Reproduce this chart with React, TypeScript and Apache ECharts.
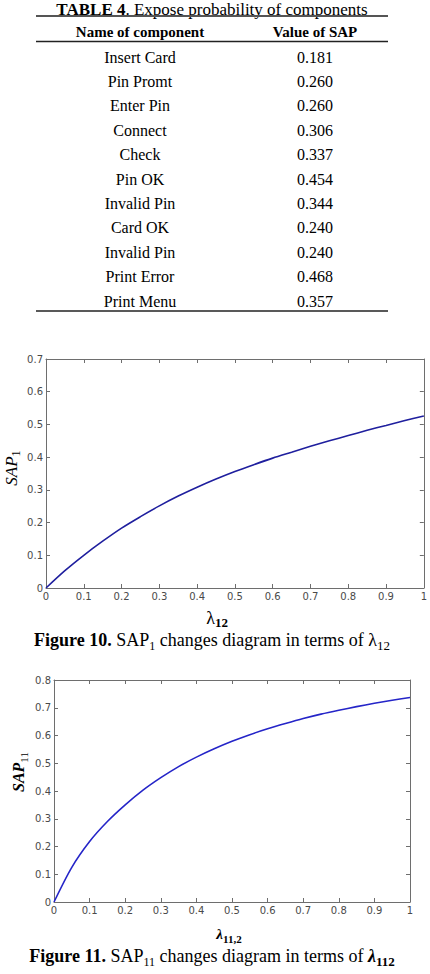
import React, { useEffect, useRef } from "react";
import * as echarts from "echarts";

// ---- Table data ----
const tableTitleBold = "TABLE 4";
const tableTitleRest = ". Expose probability of components";
const tableHeaders = ["Name of component", "Value of SAP"];
const componentNames = [
  "Insert Card", "Pin Promt", "Enter Pin", "Connect", "Check", "Pin OK",
  "Invalid Pin", "Card OK", "Invalid Pin", "Print Error", "Print Menu",
];
const sapValues = ["0.181", "0.260", "0.260", "0.306", "0.337", "0.454", "0.344", "0.240", "0.240", "0.468", "0.357"];

// ---- Figure data ----
const lambdaValues = [0, 0.05, 0.1, 0.15, 0.2, 0.25, 0.3, 0.35, 0.4, 0.45, 0.5, 0.55, 0.6, 0.65, 0.7, 0.75, 0.8, 0.85, 0.9, 0.95, 1.0];
const sap1Values = [0, 0.053, 0.1, 0.143, 0.183, 0.218, 0.251, 0.281, 0.308, 0.333, 0.356, 0.377, 0.397, 0.415, 0.433, 0.45, 0.466, 0.482, 0.497, 0.512, 0.526];
const sap11Values = [0, 0.125, 0.218, 0.29, 0.35, 0.403, 0.448, 0.488, 0.522, 0.552, 0.579, 0.603, 0.624, 0.643, 0.661, 0.677, 0.691, 0.704, 0.716, 0.727, 0.737];
const fig1YMax = 0.7;
const fig2YMax = 0.8;

const SERIF = "'Liberation Serif', 'Times New Roman', serif";
const SANS = "'DejaVu Sans', sans-serif";

export default function App() {
  const ref = useRef<HTMLDivElement>(null);
  useEffect(() => {
    if (!ref.current) return;
    const chart = echarts.init(ref.current, undefined, { renderer: "svg" });

    const axisColor = "#6e6e6e";
    const labelStyle = { color: "#4a4a4a", fontFamily: SANS, fontSize: 10 };

    const mkX = (gridIndex: number, pos: "bottom" | "top") => ({
      type: "value",
      gridIndex,
      position: pos,
      min: 0,
      max: 1,
      interval: 0.1,
      axisLine: { show: true, onZero: false, lineStyle: { color: axisColor, width: 1 } },
      axisTick: { show: true, inside: true, length: 4, lineStyle: { color: axisColor } },
      axisLabel: pos === "bottom" ? { show: true, margin: 3, ...labelStyle } : { show: false },
      splitLine: { show: false },
    });
    const mkY = (gridIndex: number, pos: "left" | "right", max: number) => ({
      type: "value",
      gridIndex,
      position: pos,
      min: 0,
      max,
      interval: 0.1,
      axisLine: { show: true, onZero: false, lineStyle: { color: axisColor, width: 1 } },
      axisTick: { show: true, inside: true, length: 4, lineStyle: { color: axisColor } },
      axisLabel: pos === "left" ? { show: true, margin: 3, ...labelStyle } : { show: false },
      splitLine: { show: false },
    });

    const graphic: any[] = [];
    // table title
    graphic.push({
      type: "text",
      x: 212,
      y: 9.5,
      style: {
        text: `{b|${tableTitleBold}}{r|${tableTitleRest}}`,
        align: "center",
        verticalAlign: "middle",
        rich: {
          b: { fontFamily: SERIF, fontSize: 17, fontWeight: "bold", fill: "#000", lineHeight: 17 },
          r: { fontFamily: SERIF, fontSize: 17, fill: "#000", lineHeight: 17 },
        },
      },
    });
    const lines = [16, 41.5, 311];
    lines.forEach((y, i) =>
      graphic.push({
        type: "line",
        shape: { x1: 36, y1: y, x2: 388, y2: y },
        style: { stroke: i === 0 ? "#555" : "#222", lineWidth: i === 0 ? 2 : 1.3 },
      })
    );
    const colX = [140, 315];
    tableHeaders.forEach((h, i) =>
      graphic.push({
        type: "text",
        x: colX[i],
        y: 32,
        style: { text: h, align: "center", verticalAlign: "middle", fontFamily: SERIF, fontSize: 15, fontWeight: "bold", fill: "#000" },
      })
    );
    componentNames.forEach((n, i) => {
      const y = 57 + i * 24.4;
      graphic.push({
        type: "text",
        x: colX[0],
        y,
        style: { text: n, align: "center", verticalAlign: "middle", fontFamily: SERIF, fontSize: 16, fill: "#000" },
      });
      graphic.push({
        type: "text",
        x: colX[1],
        y,
        style: { text: sapValues[i], align: "center", verticalAlign: "middle", fontFamily: SERIF, fontSize: 16, fill: "#000" },
      });
    });

    // axis names
    graphic.push({
      type: "text",
      x: 217,
      y: 618,
      style: {
        text: "{l|λ}{s|12}",
        align: "center",
        verticalAlign: "middle",
        rich: {
          l: { fontFamily: SERIF, fontSize: 18, fill: "#000", lineHeight: 22, verticalAlign: "middle" },
          s: { fontFamily: SERIF, fontSize: 13, fontWeight: "bold", fill: "#000", lineHeight: 22, verticalAlign: "bottom" },
        },
      },
    });
    graphic.push({
      type: "text",
      x: 11,
      y: 468,
      rotation: Math.PI / 2,
      style: {
        text: "{l|SAP}{s|1}",
        align: "center",
        verticalAlign: "middle",
        rich: {
          l: { fontFamily: SERIF, fontSize: 17, fontStyle: "italic", fill: "#000", lineHeight: 22, verticalAlign: "middle" },
          s: { fontFamily: SERIF, fontSize: 12, fill: "#000", lineHeight: 22, verticalAlign: "bottom" },
        },
      },
    });
    graphic.push({
      type: "text",
      x: 229,
      y: 934,
      style: {
        text: "{l|λ}{s|11,2}",
        align: "center",
        verticalAlign: "middle",
        rich: {
          l: { fontFamily: SERIF, fontSize: 15, fontStyle: "italic", fontWeight: "bold", fill: "#000", lineHeight: 20, verticalAlign: "middle" },
          s: { fontFamily: SERIF, fontSize: 11, fontWeight: "bold", fill: "#000", lineHeight: 20, verticalAlign: "bottom" },
        },
      },
    });
    graphic.push({
      type: "text",
      x: 18,
      y: 772,
      rotation: Math.PI / 2,
      style: {
        text: "{l|SAP}{s|11}",
        align: "center",
        verticalAlign: "middle",
        rich: {
          l: { fontFamily: SERIF, fontSize: 16, fontStyle: "italic", fontWeight: "bold", fill: "#000", lineHeight: 22, verticalAlign: "middle" },
          s: { fontFamily: SERIF, fontSize: 11, fill: "#000", lineHeight: 22, verticalAlign: "bottom" },
        },
      },
    });

    // captions
    graphic.push({
      type: "text",
      x: 212,
      y: 640,
      style: {
        text: "{b|Figure 10.}{r| SAP}{s|1}{r| changes diagram in terms of λ}{s2|12}",
        align: "center",
        verticalAlign: "middle",
        rich: {
          b: { fontFamily: SERIF, fontSize: 18, fontWeight: "bold", fill: "#000", lineHeight: 24, verticalAlign: "middle" },
          r: { fontFamily: SERIF, fontSize: 18, fill: "#000", lineHeight: 24, verticalAlign: "middle" },
          s: { fontFamily: SERIF, fontSize: 12, fill: "#000", lineHeight: 24, verticalAlign: "bottom" },
          s2: { fontFamily: SERIF, fontSize: 13, fill: "#000", lineHeight: 24, verticalAlign: "bottom" },
        },
      },
    });
    graphic.push({
      type: "text",
      x: 212,
      y: 956,
      style: {
        text: "{b|Figure 11.}{r| SAP}{s|11}{r| changes diagram in terms of }{l|λ}{s2|112}",
        align: "center",
        verticalAlign: "middle",
        rich: {
          b: { fontFamily: SERIF, fontSize: 18, fontWeight: "bold", fill: "#000", lineHeight: 24, verticalAlign: "middle" },
          r: { fontFamily: SERIF, fontSize: 18, fill: "#000", lineHeight: 24, verticalAlign: "middle" },
          l: { fontFamily: SERIF, fontSize: 18, fontWeight: "bold", fontStyle: "italic", fill: "#000", lineHeight: 24, verticalAlign: "middle" },
          s: { fontFamily: SERIF, fontSize: 12, fill: "#000", lineHeight: 24, verticalAlign: "bottom" },
          s2: { fontFamily: SERIF, fontSize: 13, fontWeight: "bold", fill: "#000", lineHeight: 24, verticalAlign: "bottom" },
        },
      },
    });

    chart.setOption({
      animation: false,
      backgroundColor: "#fff",
      grid: [
        { left: 46, top: 359, width: 382, height: 229 },
        { left: 54, top: 680, width: 356, height: 222 },
      ],
      xAxis: [mkX(0, "bottom"), mkX(0, "top"), mkX(1, "bottom"), mkX(1, "top")],
      yAxis: [mkY(0, "left", fig1YMax), mkY(0, "right", fig1YMax), mkY(1, "left", fig2YMax), mkY(1, "right", fig2YMax)],
      series: [
        {
          type: "line",
          xAxisIndex: 0,
          yAxisIndex: 0,
          data: lambdaValues.map((x, i) => [x, sap1Values[i]]),
          smooth: 0.3,
          showSymbol: false,
          lineStyle: { color: "#1f1f9e", width: 1.6 },
        },
        {
          type: "line",
          xAxisIndex: 2,
          yAxisIndex: 2,
          data: lambdaValues.map((x, i) => [x, sap11Values[i]]),
          smooth: 0.3,
          showSymbol: false,
          lineStyle: { color: "#2525c8", width: 1.6 },
        },
      ],
      graphic,
    });
    return () => chart.dispose();
  }, []);
  return <div ref={ref} style={{ position: "absolute", left: 0, top: 0, width: 430, height: 974 }} />;
}
